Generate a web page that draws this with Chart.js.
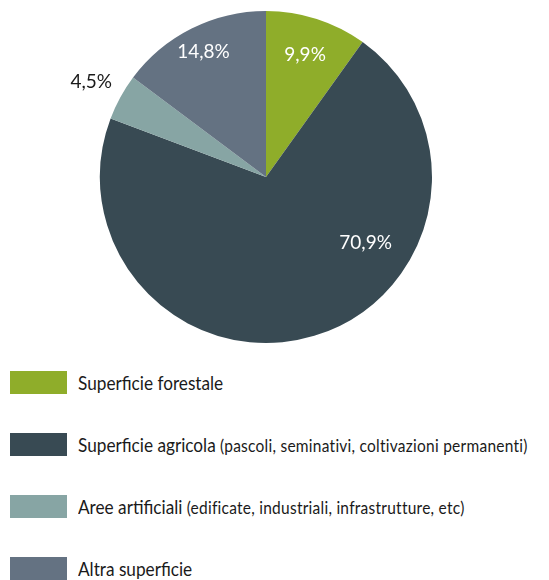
<!DOCTYPE html>
<html><head><meta charset="utf-8">
<script src="https://cdn.jsdelivr.net/npm/chart.js@4"></script>
<style>
html,body{margin:0;padding:0;background:#fff;width:549px;height:580px;overflow:hidden;}
#wrap{position:absolute;left:0;top:0;width:549px;height:354px;}
#legend{position:absolute;left:10px;top:371px;font-family:Lato,"Open Sans",sans-serif;color:#1a1a1a;}
.row{position:absolute;left:0;height:24px;white-space:nowrap;}
.box{position:absolute;left:0;top:0;width:57px;height:23px;}
.txt{position:absolute;left:68px;top:-2px;font-size:20px;line-height:26px;transform:scaleX(0.86);transform-origin:0 50%;}
.txt small{font-size:18px;letter-spacing:0.3px;}
</style></head>
<body>
<div id="wrap"><canvas id="c"></canvas></div>
<div id="legend"></div>
<script>
const categories = ["Superficie forestale","Superficie agricola","Aree artificiali","Altra superficie"];
const subLabels = ["","(pascoli, seminativi, coltivazioni permanenti)","(edificate, industriali, infrastrutture, etc)",""];
const values = [9.9, 70.9, 4.5, 14.8];
const valueLabels = ["9,9%","70,9%","4,5%","14,8%"];
const colors = ["#8fad2a","#384a53","#87a5a4","#647282"];
const labelColors = ["#ffffff","#ffffff","#1a1a1a","#ffffff"];
// label placement: fraction along slice arc, fraction of radius
const labelAlong = [0.5, 0.345, 0.5, 0.5];
const labelRadius = [0.77, 0.72, 1.2, 0.84];

const lg = document.getElementById('legend');
categories.forEach((c,i)=>{
  const r = document.createElement('div'); r.className='row'; r.style.top=(i*62)+'px';
  const b = document.createElement('div'); b.className='box'; b.style.background=colors[i]; r.appendChild(b);
  const t = document.createElement('div'); t.className='txt';
  t.textContent = c;
  if (subLabels[i]) { const s=document.createElement('small'); s.textContent=' '+subLabels[i]; t.appendChild(s); }
  r.appendChild(t); lg.appendChild(r);
});

const labelPlugin = {
  id:'sliceLabels',
  afterDatasetsDraw(chart){
    const ctx = chart.ctx;
    const meta = chart.getDatasetMeta(0);
    ctx.save();
    ctx.font = '400 19px Lato, "Open Sans", sans-serif';
    ctx.textAlign='center'; ctx.textBaseline='middle';
    meta.data.forEach((arc,i)=>{
      const p = arc.getProps(['x','y','startAngle','endAngle','outerRadius'],true);
      const a = p.startAngle + (p.endAngle-p.startAngle)*labelAlong[i];
      const rr = p.outerRadius*labelRadius[i];
      ctx.fillStyle = labelColors[i];
      ctx.fillText(valueLabels[i], p.x+Math.cos(a)*rr, p.y+Math.sin(a)*rr);
    });
    ctx.restore();
  }
};

new Chart(document.getElementById('c'),{
  type:'pie',
  data:{labels:categories,datasets:[{data:values,backgroundColor:colors,borderWidth:0}]},
  options:{
    responsive:true,maintainAspectRatio:false,animation:false,
    layout:{padding:{left:0,right:17,top:11,bottom:11}},
    plugins:{legend:{display:false},tooltip:{enabled:false}}
  },
  plugins:[labelPlugin]
});
</script>
</body></html>
